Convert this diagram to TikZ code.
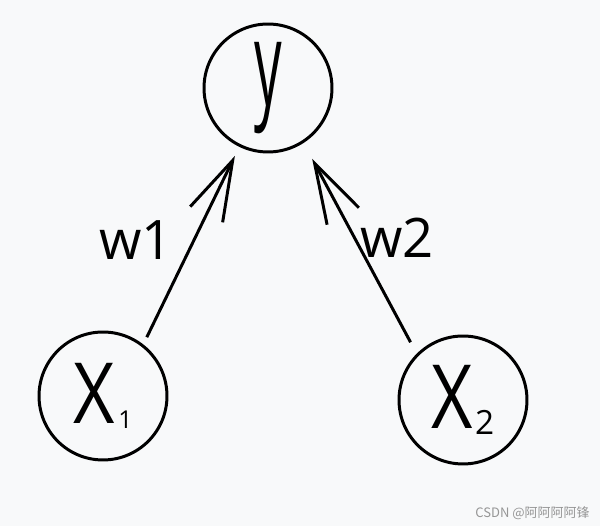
\documentclass[tikz,border=0pt]{standalone}
\usepackage{fontspec}
\setmainfont{Open Sans}
\newfontfamily\cjkfont{Noto Sans CJK SC}
\usetikzlibrary{arrows.meta, backgrounds}
\definecolor{colFond}{RGB}{248, 249, 250}
\definecolor{colMarque}{RGB}{150, 150, 150}

\begin{document}
\begin{tikzpicture}[
  x=0.02cm, y=-0.02cm,
  neurone/.style={draw, circle, line width=1.7pt, minimum size=2.56cm,
                  inner sep=0pt, font=\fontsize{48}{48}\selectfont},
  poids/.style={font=\fontsize{31}{31}\selectfont, inner sep=0pt},
  fleche/.style={line width=1.7pt,
                 -{Straight Barb[length=1.2cm, width=0.72cm]}}
]

% ---------- Fond ----------
\fill[colFond] (0,0) rectangle (600,526);
\useasboundingbox (0,0) rectangle (600,526);

% ---------- Neurones ----------
\node[neurone] (y)  at (268,88)  {\raisebox{-4pt}{\scalebox{0.65}[1.4]{y}}};
\node[neurone] (x1) at (103,396)
  {\scalebox{0.85}[1]{X}\kern2pt\raisebox{-3pt}{\fontsize{14}{14}\selectfont 1}};
\node[neurone] (x2) at (463,400)
  {\scalebox{0.85}[1.05]{X}\kern1pt\raisebox{-3pt}{\fontsize{19}{19}\selectfont 2}};

% ---------- Connexions ----------
\draw[fleche, shorten <=0.16cm, shorten >=0.2cm]  (x1.52)  -- (y.244);
\draw[fleche, shorten <=0.26cm, shorten >=0.36cm] (x2.135) -- (y.303);

% ---------- Poids ----------
\node[poids] (w1) at (136,240) {w1};
\node[poids] (w2) at (397,238) {w2};

% ---------- Filigrane ----------
\node[anchor=east, inner sep=0pt, text=colMarque,
      font=\cjkfont\fontsize{7.4}{8}\selectfont] (marque) at (590,513)
  {CSDN @阿阿阿阿锋};

\end{tikzpicture}
\end{document}
